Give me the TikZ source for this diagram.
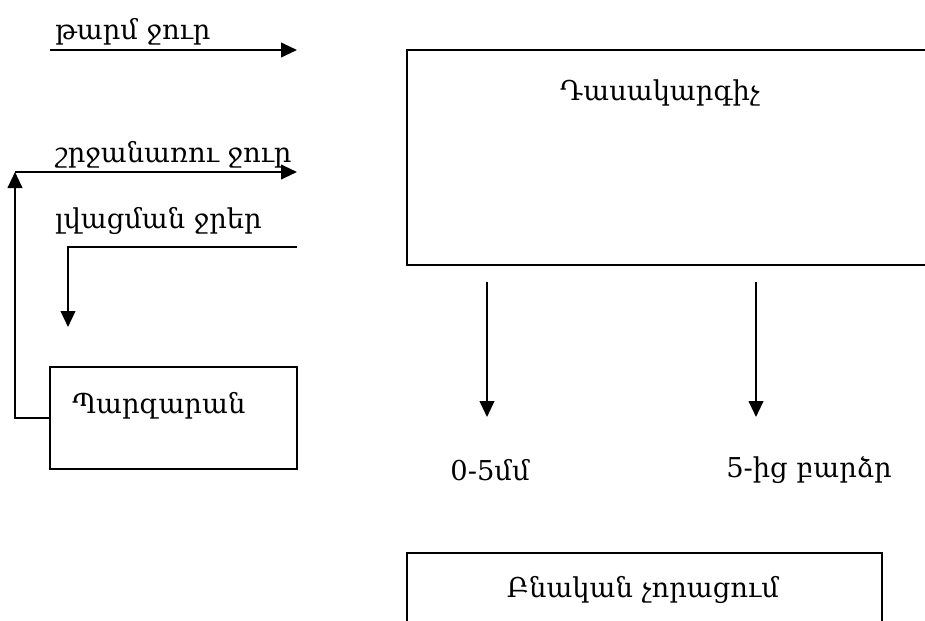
\documentclass[tikz,border=0pt]{standalone}
\usepackage{fontspec}
\setmainfont{DejaVu Serif}
\usetikzlibrary{arrows.meta}
\begin{document}
\begin{tikzpicture}[x=0.75pt,y=-0.75pt,
  box/.style={draw=black,line width=1.5pt,fill=none,inner sep=0pt},
  arr/.style={draw=black,line width=1.5pt,-{Triangle[length=12pt,width=11pt]}},
  lbl/.style={font=\fontsize{20.5}{24}\selectfont,inner sep=0pt}]
\clip (0,0) rectangle (925,621);
\fill[white] (0,0) rectangle (925,621);
% boxes
\node[box,minimum width=553*0.75pt,minimum height=215*0.75pt] (cls) at (683.5,157.5) {};
\node[box,minimum width=475*0.75pt,minimum height=107*0.75pt] (dry) at (644.5,606.5) {};
\node[box,minimum width=247*0.75pt,minimum height=102*0.75pt] (par) at (173.5,418) {};
% texts
\node[lbl] (tcls) at (660,93) {Դասակարգիչ};
\node[lbl] (tdry) at (643,590) {Բնական չորացում};
\node[lbl,anchor=base west] (tpar) at (72,413) {Պարզարան};
\node[lbl,anchor=base west] (tfresh) at (55,39) {թարմ ջուր};
\node[lbl,anchor=base west] (trec) at (55,162) {շրջանառու ջուր};
\node[lbl,anchor=base west] (twash) at (55,228) {լվացման ջրեր};
\node[lbl] (tsmall) at (490,470) {0-5մմ};
\node[lbl] (tbig) at (809,470) {5-ից բարձր};
% coordinates
\coordinate (f1) at (50,50);
\coordinate (f2) at (297,50);
\coordinate (r0) at (15,172);
\coordinate (r1) at (297,172);
\coordinate (w1) at (297,247);
\coordinate (w2) at (68,327);
\coordinate (a1) at (487,282);
\coordinate (a2) at (487,417);
\coordinate (b1) at (756,282);
\coordinate (b2) at (756,417);
% connectors
\draw[arr] (f1) -- (f2);
\draw[arr] (par.west) -| (r0);
\draw[arr] (r0) -- (r1);
\draw[arr] (w1) -| (w2);
\draw[arr] (a1) -- (a2);
\draw[arr] (b1) -- (b2);
\end{tikzpicture}
\end{document}
